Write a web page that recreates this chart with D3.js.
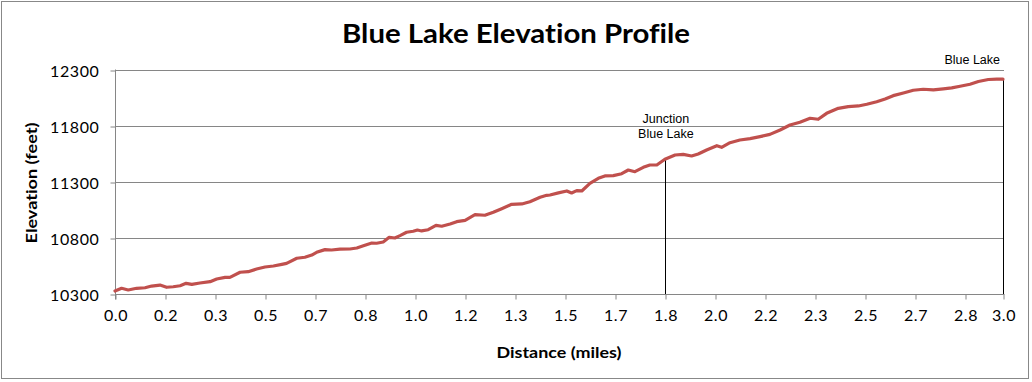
<!DOCTYPE html>
<html>
<head>
<meta charset="utf-8">
<script src="https://cdn.jsdelivr.net/npm/d3@7"></script>
<style>
  html, body { margin: 0; padding: 0; background: #fff; }
  svg { display: block; }
  text { font-variant-ligatures: none; font-feature-settings: "liga" 0; }
</style>
</head>
<body>
<svg id="chart" width="1032" height="382"></svg>
<script>
// ---- Data (distance in miles, elevation in feet) ----
const distances = [
  0.000,0.022,0.044,0.072,0.100,0.122,0.150,0.172,0.194,0.217,0.237,0.256,0.283,0.317,0.339,0.367,0.383,0.417,0.444,0.472,
  0.500,0.528,0.556,0.572,0.606,0.633,0.656,0.672,0.700,0.722,0.750,0.783,0.806,0.828,0.856,0.872,0.894,0.914,0.933,0.950,
  0.972,0.994,1.008,1.022,1.044,1.070,1.089,1.117,1.139,1.167,1.200,1.233,1.261,1.289,1.322,1.356,1.383,1.417,1.439,1.450,
  1.478,1.506,1.522,1.539,1.556,1.583,1.611,1.633,1.661,1.689,1.711,1.733,1.761,1.783,1.806,1.833,1.867,1.894,1.922,1.944,
  1.972,2.006,2.022,2.050,2.083,2.117,2.150,2.183,2.217,2.250,2.283,2.317,2.344,2.372,2.411,2.444,2.478,2.506,2.539,2.567,
  2.594,2.628,2.661,2.694,2.728,2.761,2.789,2.817,2.850,2.878,2.911,2.939,2.960
];
const elevations = [
  10327,10351,10336,10351,10356,10371,10380,10360,10365,10374,10395,10386,10398,10410,10434,10449,10449,10494,10499,10523,
  10541,10550,10565,10574,10619,10628,10648,10672,10696,10693,10700,10702,10711,10731,10755,10753,10764,10806,10800,10821,
  10851,10860,10871,10863,10874,10913,10905,10925,10946,10958,11008,11003,11030,11062,11101,11104,11124,11163,11181,11184,
  11203,11220,11202,11223,11220,11288,11333,11354,11357,11374,11407,11392,11431,11452,11452,11503,11541,11547,11532,11550,
  11586,11624,11610,11651,11675,11687,11705,11725,11764,11809,11833,11869,11860,11913,11958,11973,11979,11994,12017,12041,
  12071,12095,12119,12128,12122,12131,12140,12155,12173,12197,12215,12218,12218
];

// Category-style tick positions (every 1/6 mile, last at end of data) and labels
const xTickValues = [0, 1/6, 2/6, 3/6, 4/6, 5/6, 1, 7/6, 8/6, 9/6, 10/6, 11/6, 2, 13/6, 14/6, 15/6, 16/6, 17/6, 2.96];
const xTickLabels = ["0.0","0.2","0.3","0.5","0.7","0.8","1.0","1.2","1.3","1.5","1.7","1.8","2.0","2.2","2.3","2.5","2.7","2.8","3.0"];
const yTickValues = [10300, 10800, 11300, 11800, 12300];

const annotationDistances = [1.833, 2.960];
const annotationLabels = [["Junction", "Blue Lake"], ["Blue Lake"]];

const titleText = "Blue Lake Elevation Profile";
const xTitle = "Distance (miles)";
const yTitle = "Elevation (feet)";

// ---- Layout ----
const W = 1032, H = 382;
const plot = { left: 115, right: 1003, top: 70, bottom: 294 };

const svg = d3.select("#chart");

// outer border
svg.append("rect")
  .attr("x", 1.5).attr("y", 1.5)
  .attr("width", 1027).attr("height", 377)
  .attr("fill", "#fff").attr("stroke", "#888").attr("stroke-width", 1);

const x = d3.scaleLinear().domain([0, 2.96]).range([plot.left, plot.right]);
const y = d3.scaleLinear().domain([10300, 12300]).range([plot.bottom, plot.top]);

const crisp = v => Math.round(v) + 0.5;

// gridlines
svg.append("g").selectAll("line")
  .data(yTickValues.slice(1))
  .join("line")
  .attr("x1", plot.left).attr("x2", plot.right + 1)
  .attr("y1", d => crisp(y(d))).attr("y2", d => crisp(y(d)))
  .attr("stroke", "#868686").attr("stroke-width", 1);

// y axis
const yAxis = d3.axisLeft(y).tickValues(yTickValues).tickSize(5).tickSizeOuter(0).tickFormat(d3.format("d"));
const gy = svg.append("g").attr("transform", `translate(${plot.left + 0.5},0.5)`).call(yAxis);
gy.select(".domain").attr("stroke", "#868686").attr("d", `M0,${plot.top - 1}V${plot.bottom + 5}`);
gy.selectAll(".tick line").attr("stroke", "#868686");
gy.selectAll(".tick text")
  .attr("x", -16)
  .attr("dy", "0.36em")
  .style("font-family", "Lato, 'Open Sans', sans-serif")
  .style("font-size", "16px")
  .style("letter-spacing", "0.6px")
  .attr("fill", "#000");

// x axis
const xAxis = d3.axisBottom(x).tickValues(xTickValues).tickSize(5).tickSizeOuter(0)
  .tickFormat((d, i) => xTickLabels[i]);
const gx = svg.append("g").attr("transform", `translate(0.5,${plot.bottom + 0.5})`).call(xAxis);
gx.select(".domain").attr("stroke", "#868686").attr("d", `M${plot.left},0H${plot.right + 1}`);
gx.selectAll(".tick line").attr("stroke", "#868686");
gx.selectAll(".tick text")
  .attr("y", 15)
  .attr("dy", "0.71em")
  .style("font-family", "Lato, 'Open Sans', sans-serif")
  .style("font-size", "16px")
  .style("letter-spacing", "0.6px")
  .attr("fill", "#000");

// annotation lines
svg.append("g").selectAll("line")
  .data(annotationDistances)
  .join("line")
  .attr("x1", d => crisp(x(d))).attr("x2", d => crisp(x(d)))
  .attr("y1", (d) => y(elevations[distances.indexOf(d)]))
  .attr("y2", plot.bottom)
  .attr("stroke", "#000").attr("stroke-width", 1);

// data line
const line = d3.line().x((d, i) => x(distances[i])).y(d => y(d));
svg.append("path")
  .datum(elevations)
  .attr("d", line)
  .attr("fill", "none")
  .attr("stroke", "#C0504D")
  .attr("stroke-width", 3.2)
  .attr("stroke-linejoin", "round")
  .attr("stroke-linecap", "round");

// annotation labels
const annFont = "'Liberation Sans', Arial, sans-serif";
const jx = x(annotationDistances[0]);
const jt = svg.append("text")
  .attr("x", jx + 1).attr("y", 123)
  .attr("text-anchor", "middle")
  .style("font-family", annFont).style("font-size", "12.5px").attr("fill", "#000");
annotationLabels[0].forEach((s, i) => {
  jt.append("tspan").attr("x", jx + 1).attr("dy", i === 0 ? 0 : 15).text(s);
});
svg.append("text")
  .attr("x", x(annotationDistances[1]) - 3).attr("y", 64)
  .attr("text-anchor", "end")
  .style("font-family", annFont).style("font-size", "12.5px").attr("fill", "#000")
  .text(annotationLabels[1][0]);

// titles
svg.append("text")
  .attr("x", 516).attr("y", 43)
  .attr("text-anchor", "middle")
  .attr("textLength", 348).attr("lengthAdjust", "spacingAndGlyphs")
  .style("font-family", "Lato, 'Open Sans', sans-serif")
  .style("font-weight", "bold").style("font-size", "27px")
  .attr("fill", "#000")
  .text(titleText);

svg.append("text")
  .attr("x", 559).attr("y", 358)
  .attr("text-anchor", "middle")
  .attr("textLength", 125).attr("lengthAdjust", "spacingAndGlyphs")
  .style("font-family", "Lato, 'Open Sans', sans-serif")
  .style("font-weight", "bold").style("font-size", "15.5px")
  .attr("fill", "#000")
  .text(xTitle);

svg.append("text")
  .attr("transform", "translate(37,183) rotate(-90)")
  .attr("text-anchor", "middle")
  .attr("textLength", 121).attr("lengthAdjust", "spacingAndGlyphs")
  .style("font-family", "Lato, 'Open Sans', sans-serif")
  .style("font-weight", "bold").style("font-size", "15.5px")
  .attr("fill", "#000")
  .text(yTitle);
</script>
</body>
</html>
